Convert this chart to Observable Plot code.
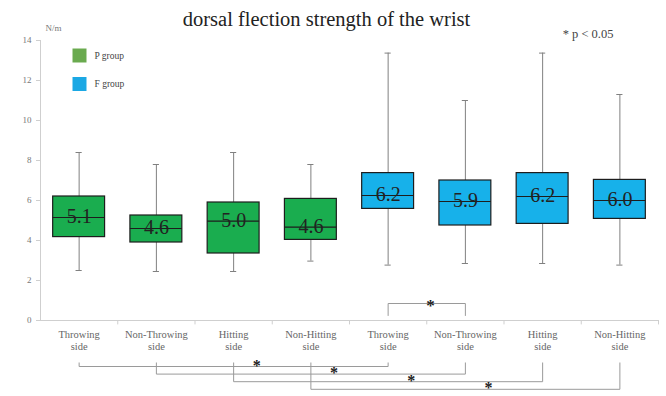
<!DOCTYPE html>
<html>
<head>
<meta charset="utf-8">
<script src="https://cdn.jsdelivr.net/npm/d3@7"></script>
<script src="https://cdn.jsdelivr.net/npm/@observablehq/plot@0.6"></script>
<style>
  html, body { margin: 0; padding: 0; background: #fff; }
  #chart svg { display: block; }
</style>
</head>
<body>
<div id="chart"></div>
<script>
// ---- data ----
const categories = [
  "Throwing\nside", "Non-Throwing\nside", "Hitting\nside", "Non-Hitting\nside",
  "Throwing\nside", "Non-Throwing\nside", "Hitting\nside", "Non-Hitting\nside"
];
const groups = ["P group", "P group", "P group", "P group", "F group", "F group", "F group", "F group"];
const whiskerLow  = [2.50, 2.45, 2.45, 2.97, 2.77, 2.85, 2.85, 2.77];
const q1          = [4.17, 3.90, 3.35, 4.03, 5.58, 4.75, 4.83, 5.08];
const medians     = [5.15, 4.60, 4.97, 4.67, 6.25, 5.95, 6.20, 6.00];
const q3          = [6.20, 5.25, 5.90, 6.08, 7.37, 7.00, 7.37, 7.03];
const whiskerHigh = [8.40, 7.80, 8.40, 7.80, 13.37, 11.00, 13.37, 11.30];
const medianLabels = ["5.1", "4.6", "5.0", "4.6", "6.2", "5.9", "6.2", "6.0"];
const yTicks = [0, 2, 4, 6, 8, 10, 12, 14];
const groupNames = ["P group", "F group"];
const sigAbove = [[4, 5]];                       // pairs of category indices
const sigBelow = [[0, 4], [1, 5], [2, 6], [3, 7]];
const titleText = "dorsal flection strength of the wrist";
const unitText = "N/m";
const noteText = "* p < 0.05";

// ---- build table ----
const rows = categories.map((c, i) => ({
  i, cat: c, group: groups[i],
  lo: whiskerLow[i], q1: q1[i], med: medians[i], q3: q3[i], hi: whiskerHigh[i],
  label: medianLabels[i]
}));

const serif = "'Liberation Serif', 'Times New Roman', serif";
const half = 0.336;   // half box width (in category units)
const cap = 0.04;
const level = k => -2.3 - 0.38 * k;

// bracket paths
const bracketPts = [];
sigAbove.forEach(([a, b], k) => {
  const top = 0.85, foot = 0.25;
  bracketPts.push({id: "a" + k, x: a, y: foot}, {id: "a" + k, x: a, y: top},
                  {id: "a" + k, x: b, y: top}, {id: "a" + k, x: b, y: foot});
});
sigBelow.forEach(([a, b], k) => {
  const lvl = level(k), foot = -2.12;
  bracketPts.push({id: "b" + k, x: a, y: foot}, {id: "b" + k, x: a, y: lvl},
                  {id: "b" + k, x: b, y: lvl}, {id: "b" + k, x: b, y: foot});
});
const starsAbove = sigAbove.map(([a, b]) => ({x: (a + b) / 2 + 0.05, y: 0.85}));
const starsBelow = sigBelow.map(([a, b], k) => ({x: (a + b) / 2 + 0.3, y: level(k)}));

const plot = Plot.plot({
  width: 666,
  height: 396,
  marginLeft: 40,
  marginRight: 8,
  marginTop: 40,
  marginBottom: 76,
  style: {fontFamily: serif, color: "#777", background: "#fff"},
  x: {domain: [-0.5, 7.5], axis: null},
  y: {domain: [0, 14], axis: null},
  color: {domain: groupNames, range: ["#1aad4f", "#17b1ea"]},
  marks: [
    // axes lines
    Plot.ruleY([0], {x1: -0.5, x2: 7.5, stroke: "#cfcfcf"}),
    Plot.ruleX([-0.5], {y1: 0, y2: 14, stroke: "#cfcfcf"}),
    Plot.ruleX(d3.range(1, 9).map(k => k - 0.5), {y1: 0, y2: -0.22, stroke: "#cfcfcf"}),
    Plot.axisY({ticks: yTicks, tickSize: 4, tickPadding: 5, fontSize: 9, fontFamily: serif, stroke: "#cfcfcf", fill: "#777", anchor: "left"}),
    // whiskers
    Plot.ruleX(rows, {x: "i", y1: "lo", y2: "q1", stroke: "#808080"}),
    Plot.ruleX(rows, {x: "i", y1: "q3", y2: "hi", stroke: "#808080"}),
    Plot.ruleY(rows, {y: "lo", x1: d => d.i - cap, x2: d => d.i + cap, stroke: "#808080"}),
    Plot.ruleY(rows, {y: "hi", x1: d => d.i - cap, x2: d => d.i + cap, stroke: "#808080"}),
    // boxes
    Plot.rect(rows, {x1: d => d.i - half, x2: d => d.i + half, y1: "q1", y2: "q3", fill: "group", stroke: "#1d1d1d", strokeWidth: 1.2}),
    Plot.ruleY(rows, {y: "med", x1: d => d.i - half, x2: d => d.i + half, stroke: "#1d1d1d", strokeWidth: 1.2}),
    Plot.text(rows, {x: "i", y: "med", text: "label", fontSize: 20, fontFamily: serif, fill: "#222", lineAnchor: "middle", dy: -1}),
    // category labels
    Plot.text(rows, {x: "i", y: 0, text: "cat", dy: 9, lineAnchor: "top", lineHeight: 1.15, fontSize: 10.5, fontFamily: serif, fill: "#666"}),
    // significance brackets
    Plot.line(bracketPts, {x: "x", y: "y", z: "id", stroke: "#9a9a9a", strokeWidth: 1}),
    Plot.text(starsAbove, {x: "x", y: "y", text: () => "*", fontSize: 17, fontWeight: "bold", fontFamily: serif, fill: "#222", lineAnchor: "middle", dy: 2}),
    Plot.text(starsBelow, {x: "x", y: "y", text: () => "*", fontSize: 16, fontWeight: "bold", fontFamily: serif, fill: "#222", lineAnchor: "middle", dy: -1}),
    // title, unit, note
    Plot.text([titleText], {x: () => 3.5, y: () => 14, text: d => d, dx: -23, dy: -21, fontSize: 20.5, fontFamily: serif, fill: "#222", lineAnchor: "middle"}),
    Plot.text([unitText], {x: () => -0.5, y: () => 14, text: d => d, dx: 5, dy: -12, fontSize: 9, fontFamily: serif, fill: "#777", textAnchor: "start", lineAnchor: "middle"}),
    Plot.text([noteText], {x: () => 7.5, y: () => 14, text: d => d, dx: -45, dy: -7, fontSize: 12.5, fontFamily: serif, fill: "#444", textAnchor: "end", lineAnchor: "middle"}),
    // legend
    Plot.dot([0], {x: () => -0.5, y: () => 14, dx: 39, dy: 15, symbol: "square", r: 7.9, fill: "#6aaa4f"}),
    Plot.dot([0], {x: () => -0.5, y: () => 14, dx: 39, dy: 43.5, symbol: "square", r: 7.9, fill: "#1ba8e4"}),
    Plot.text([groupNames[0]], {x: () => -0.5, y: () => 14, text: d => d, dx: 54, dy: 15, fontSize: 9.5, fontFamily: serif, fill: "#444", textAnchor: "start", lineAnchor: "middle"}),
    Plot.text([groupNames[1]], {x: () => -0.5, y: () => 14, text: d => d, dx: 54, dy: 43, fontSize: 9.5, fontFamily: serif, fill: "#444", textAnchor: "start", lineAnchor: "middle"})
  ]
});
document.getElementById("chart").appendChild(plot);
</script>
</body>
</html>
